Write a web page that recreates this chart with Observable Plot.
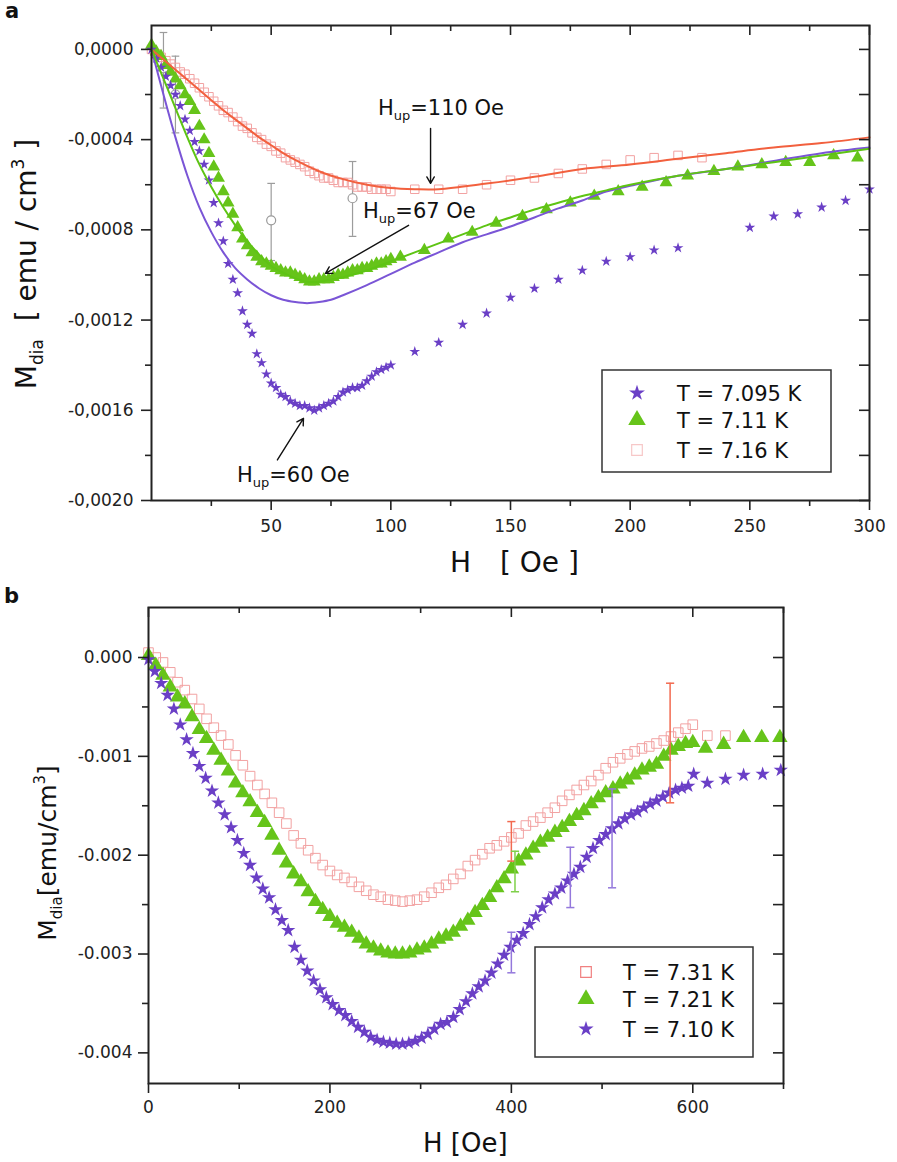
<!DOCTYPE html>
<html><head><meta charset="utf-8">
<script src="https://cdn.jsdelivr.net/npm/d3@7"></script>
<script src="https://cdn.jsdelivr.net/npm/@observablehq/plot@0.6"></script>
<style>
body{margin:0;background:#fff;}
#wrap{position:relative;width:897px;height:1162px;font-family:"DejaVu Sans",sans-serif;}
#pa{position:absolute;left:0;top:0;}
#pb{position:absolute;left:0;top:590px;}
svg text{white-space:pre;}
</style></head><body><div id="wrap"><div id="pa"></div><div id="pb"></div></div>
<script>
// ---------------- Panel a data (M in units of 1e-4 emu/cm^3) ----------------
const aStarH = [0,2,4,6,8,10,12,14,16,18,20,22,24,26,28,30,32,34,36,38,40,42,44,46,48,50,52,54,56,58,60,62,64,66,68,70,72,74,76,78,80,82,84,86,88,90,92,94,96,98,100,110,120,130,140,150,160,170,180,190,200,210,220,250,260,270,280,290,300];
const aStarM = [0,-0.4,-0.8,-1.2,-1.6,-2.0,-2.5,-3.1,-3.6,-4.1,-4.5,-5.1,-5.8,-6.8,-7.7,-8.5,-9.5,-10.2,-10.8,-11.6,-12.2,-12.6,-13.5,-13.9,-14.4,-14.8,-15.0,-15.3,-15.4,-15.6,-15.7,-15.8,-15.8,-15.9,-16.0,-15.9,-15.8,-15.7,-15.6,-15.4,-15.2,-15.1,-15.0,-15.0,-14.9,-14.7,-14.5,-14.3,-14.2,-14.1,-14.0,-13.4,-13.0,-12.2,-11.7,-11.0,-10.6,-10.2,-9.8,-9.4,-9.2,-8.9,-8.8,-7.9,-7.4,-7.3,-7.0,-6.7,-6.2];
const aTriH = [0,2,4,6,8,10,12,14,16,18,20,22,24,26,28,30,32,34,36,38,40,42,44,46,48,50,52,54,56,58,60,62,64,66,68,70,72,74,76,78,80,82,84,86,88,90,92,94,96,98,100,104,114,124,134,144,155,165,175,185,195,205,215,224,235,245,255,265,275,285,295];
const aTriM = [0.2,-0.1,-0.3,-0.7,-1.0,-1.3,-1.6,-2.0,-2.3,-2.7,-3.4,-4.0,-4.6,-5.2,-5.7,-6.3,-6.8,-7.3,-7.9,-8.4,-8.7,-9.0,-9.2,-9.4,-9.5,-9.6,-9.7,-9.8,-9.9,-9.9,-10.0,-10.1,-10.2,-10.3,-10.3,-10.2,-10.2,-10.2,-10.1,-10.0,-10.0,-9.9,-9.8,-9.8,-9.7,-9.7,-9.6,-9.5,-9.5,-9.4,-9.3,-9.2,-8.9,-8.4,-8.1,-7.7,-7.4,-7.1,-6.8,-6.5,-6.3,-6.1,-5.9,-5.6,-5.4,-5.2,-5.1,-5.0,-5.0,-4.7,-4.8];
const aSqH = [0,2,4,6,8,10,12,14,16,18,20,22,24,26,28,30,32,34,36,38,40,42,44,46,48,50,52,54,56,58,60,62,64,66,68,70,72,74,76,78,80,82,84,86,88,90,92,94,96,98,100,110,120,130,140,150,160,170,180,190,200,210,220,230];
const aSqM = [0,-0.2,-0.35,-0.5,-0.65,-0.8,-1.0,-1.1,-1.3,-1.5,-1.7,-1.9,-2.1,-2.3,-2.5,-2.7,-2.8,-3.0,-3.2,-3.4,-3.5,-3.7,-3.9,-4.0,-4.2,-4.3,-4.5,-4.6,-4.8,-4.9,-5.0,-5.1,-5.2,-5.4,-5.5,-5.6,-5.7,-5.7,-5.8,-5.9,-5.9,-5.9,-6.0,-6.1,-6.1,-6.1,-6.2,-6.2,-6.2,-6.2,-6.3,-6.2,-6.2,-6.2,-6.0,-5.8,-5.7,-5.5,-5.3,-5.1,-4.9,-4.8,-4.7,-4.8];
const aFitRedH = [0,5,10,15,20,25,30,35,40,45,50,55,60,70,80,90,100,110,120,140,160,180,200,220,240,260,280,300];
const aFitRedM = [0,-0.45,-0.9,-1.35,-1.8,-2.25,-2.7,-3.1,-3.5,-3.9,-4.25,-4.6,-4.9,-5.4,-5.75,-6.0,-6.15,-6.2,-6.2,-5.95,-5.65,-5.3,-5.1,-4.85,-4.6,-4.35,-4.15,-3.9];
const aFitGreenH = [0,5,10,15,20,25,30,35,40,45,50,55,60,65,70,75,80,90,100,110,120,130,140,150,160,170,180,190,200,220,240,260,280,300];
const aFitGreenM = [0,-1.3,-2.6,-3.9,-5.1,-6.1,-7.0,-7.8,-8.5,-9.1,-9.6,-9.9,-10.15,-10.3,-10.3,-10.2,-10.1,-9.8,-9.4,-9.0,-8.6,-8.2,-7.8,-7.45,-7.1,-6.8,-6.5,-6.25,-6.0,-5.6,-5.3,-5.0,-4.7,-4.4];
const aFitPurpH = [0,5,10,15,20,25,30,35,40,45,50,55,60,65,70,75,80,90,100,110,120,130,140,150,160,170,180,190,200,220,240,260,280,300];
const aFitPurpM = [0,-2.0,-3.9,-5.6,-7.0,-8.1,-9.0,-9.7,-10.2,-10.6,-10.9,-11.1,-11.2,-11.25,-11.2,-11.1,-10.9,-10.45,-9.95,-9.45,-9.0,-8.55,-8.2,-7.85,-7.45,-7.05,-6.7,-6.3,-6.05,-5.6,-5.3,-4.95,-4.6,-4.35];
const aErrH  = [5, 10, 50, 84];
const aErrM  = [-0.84, -2.0, -7.58, -6.6];
const aErrLo = [-2.6, -3.7, -9.36, -8.29];
const aErrHi = [0.75, -0.3, -5.94, -4.97];
const aLegend = ["T = 7.095 K", "T = 7.11 K", "T = 7.16 K"];
const aXMajor = [50,100,150,200,250,300];
const aXMinor = [25,75,125,175,225,275];
const aYMajor = [0,-0.0004,-0.0008,-0.0012,-0.0016,-0.0020];
const aYMinor = [-0.0002,-0.0006,-0.0010,-0.0014,-0.0018];
// annotations: label value, text anchor (H, M e-4), arrow start/end (H, M e-4)
const aNoteVal = ["110", "67", "60"];
const aNoteTx = [94.8, 88.6, 35.9];
const aNoteTy = [-2.93, -7.49, -19.2];
const aArrX1 = [116.6, 107.4, 52.6];
const aArrY1 = [-3.5, -7.8, -18.2];
const aArrX2 = [116.6, 72.7, 63.5];
const aArrY2 = [-5.94, -9.93, -16.36];

// ---------------- Panel b data (M in units of 1e-3 emu/cm^3) ----------------
const bSqH = [0,8,16,24,32,40,48,56,64,72,80,88,96,104,112,120,128,136,144,152,160,168,176,184,192,200,208,216,224,232,240,248,256,264,272,280,288,296,304,312,320,328,336,344,352,360,368,376,384,392,400,408,416,424,432,440,448,456,464,472,480,488,496,504,512,520,528,536,544,552,560,568,576,584,592,600,616,636];
const bSqM = [0.05,0.0,-0.05,-0.15,-0.25,-0.33,-0.42,-0.52,-0.62,-0.71,-0.79,-0.88,-0.99,-1.09,-1.2,-1.29,-1.38,-1.47,-1.57,-1.68,-1.8,-1.88,-1.95,-2.03,-2.1,-2.16,-2.2,-2.23,-2.27,-2.32,-2.36,-2.4,-2.42,-2.45,-2.46,-2.47,-2.46,-2.45,-2.42,-2.38,-2.33,-2.3,-2.24,-2.19,-2.11,-2.05,-1.99,-1.93,-1.9,-1.86,-1.82,-1.78,-1.7,-1.66,-1.62,-1.57,-1.52,-1.45,-1.39,-1.34,-1.29,-1.25,-1.19,-1.12,-1.06,-1.02,-0.98,-0.95,-0.92,-0.9,-0.87,-0.84,-0.8,-0.76,-0.72,-0.68,-0.79,-0.79];
const bTriH = [0,8,16,24,32,40,48,56,64,72,80,88,96,104,112,120,128,136,144,152,160,168,176,184,192,200,208,216,224,232,240,248,256,264,272,280,288,296,304,312,320,328,336,344,352,360,368,376,384,392,400,408,416,424,432,440,448,456,464,472,480,488,496,504,512,520,528,536,544,552,560,568,576,584,592,600,614,634,656,676,696];
const bTriM = [0.02,-0.08,-0.18,-0.3,-0.4,-0.47,-0.6,-0.73,-0.82,-0.94,-1.04,-1.15,-1.27,-1.37,-1.46,-1.57,-1.67,-1.8,-1.95,-2.08,-2.19,-2.27,-2.37,-2.47,-2.55,-2.62,-2.69,-2.73,-2.78,-2.84,-2.9,-2.94,-2.97,-2.99,-3.0,-3.0,-2.99,-2.96,-2.94,-2.9,-2.85,-2.82,-2.78,-2.72,-2.66,-2.58,-2.51,-2.43,-2.33,-2.24,-2.14,-2.06,-2.0,-1.93,-1.87,-1.82,-1.77,-1.72,-1.66,-1.6,-1.55,-1.48,-1.42,-1.37,-1.33,-1.28,-1.24,-1.19,-1.14,-1.11,-1.08,-1.0,-0.94,-0.9,-0.87,-0.86,-0.92,-0.88,-0.81,-0.81,-0.81];
const bStarH = [0,7,14,21,28,35,42,49,56,63,70,77,84,91,98,105,112,119,126,133,140,147,154,161,168,175,182,189,196,203,210,217,224,231,238,245,252,259,266,273,280,287,294,301,308,315,322,329,336,343,350,357,364,371,378,385,392,399,406,413,420,427,434,441,448,455,462,469,476,483,490,497,504,511,518,525,532,539,546,553,560,567,574,581,588,595,601,616,636,656,677,697];
const bStarM = [-0.02,-0.14,-0.26,-0.38,-0.52,-0.68,-0.83,-0.97,-1.1,-1.22,-1.35,-1.47,-1.59,-1.72,-1.85,-1.98,-2.1,-2.23,-2.34,-2.43,-2.55,-2.66,-2.76,-2.93,-3.06,-3.17,-3.27,-3.36,-3.44,-3.51,-3.57,-3.62,-3.68,-3.74,-3.79,-3.84,-3.87,-3.89,-3.9,-3.91,-3.91,-3.9,-3.88,-3.85,-3.81,-3.76,-3.71,-3.69,-3.64,-3.56,-3.48,-3.4,-3.33,-3.27,-3.19,-3.1,-3.01,-2.93,-2.86,-2.79,-2.7,-2.62,-2.53,-2.45,-2.39,-2.33,-2.26,-2.19,-2.12,-2.02,-1.93,-1.85,-1.79,-1.73,-1.68,-1.63,-1.59,-1.56,-1.52,-1.48,-1.45,-1.41,-1.37,-1.34,-1.32,-1.3,-1.18,-1.27,-1.23,-1.19,-1.18,-1.14];
const bErrH  = [400, 404, 400, 465, 511, 575];
const bErrLo = [-2.06, -2.37, -3.19, -2.53, -2.33, -1.47];
const bErrHi = [-1.66, -1.96, -2.78, -1.92, -1.33, -0.26];
const bErrSeries = ["7.31", "7.21", "7.10", "7.10", "7.10", "7.31"];
const bLegend = ["T = 7.31 K", "T = 7.21 K", "T = 7.10 K"];
const bXMajor = [0,200,400,600];
const bXMinor = [100,300,500,700];
const bYMajor = [0,-0.001,-0.002,-0.003,-0.004];
const bYMinor = [-0.0005,-0.0015,-0.0025,-0.0035];

// ---------------- styles ----------------
const C = {purple:"#6a3fc6", green:"#66c41a", pink:"#f2a2a2", red:"#f2603e", purpleLine:"#7a55d6", greenLine:"#5ec414", grey:"#9c9c9c", axis:"#222"};
const bErrColor = {"7.31":"#f26a50", "7.21":"#7fd04a", "7.10":"#9478dc"};

const zipA = (H, M) => H.map((h, i) => ({h, m: M[i] * 1e-4}));
const zipB = (H, M) => H.map((h, i) => ({h, m: M[i] * 1e-3}));
const aStar = zipA(aStarH, aStarM), aTri = zipA(aTriH, aTriM), aSq = zipA(aSqH, aSqM);
const aRed = zipA(aFitRedH, aFitRedM), aGreen = zipA(aFitGreenH, aFitGreenM), aPurp = zipA(aFitPurpH, aFitPurpM);
const aErr = aErrH.map((h, i) => ({h, m: aErrM[i]*1e-4, lo: aErrLo[i]*1e-4, hi: aErrHi[i]*1e-4}));
const aArrows = aArrX1.map((x1, i) => ({x1, y1: aArrY1[i]*1e-4, x2: aArrX2[i], y2: aArrY2[i]*1e-4}));
const bSq = zipB(bSqH, bSqM), bTri = zipB(bTriH, bTriM), bStar = zipB(bStarH, bStarM);
const bErr = bErrH.map((h, i) => ({h, lo: bErrLo[i]*1e-3, hi: bErrHi[i]*1e-3, s: bErrSeries[i]}));

// fw, fh: frame width / height in px (used to keep mirrored ticks short and inside)
function axes(xMaj, xMin, yMaj, yMin, xFmt, yFmt, xPad, yPad, fw, fh) {
  const common = {stroke: C.axis, strokeWidth: 1.6, label: null, fill: C.axis};
  const tk = {stroke: C.axis, strokeWidth: 1.6};
  const none = () => "";
  return [
    Plot.axisX(xMaj, {...common, anchor: "bottom", tickSize: 10, tickPadding: xPad, tickFormat: xFmt}),
    Plot.axisX(xMin, {...common, anchor: "bottom", tickSize: 6, tickFormat: none}),
    Plot.axisY(yMaj, {...common, anchor: "left", tickSize: 10, tickPadding: yPad, tickFormat: yFmt}),
    Plot.axisY(yMin, {...common, anchor: "left", tickSize: 6, tickFormat: none}),
    Plot.tickX(xMaj, {...tk, x: d => d, insetBottom: fh - 10}),
    Plot.tickX(xMin, {...tk, x: d => d, insetBottom: fh - 6}),
    Plot.tickY(yMaj, {...tk, y: d => d, insetLeft: fw - 10}),
    Plot.tickY(yMin, {...tk, y: d => d, insetLeft: fw - 10}),
    Plot.frame({stroke: C.axis, strokeWidth: 2})
  ];
}

// ---------------- Panel a ----------------
const capA = 1.6;
const plotA = Plot.plot({
  width: 897, height: 590,
  marginLeft: 151, marginRight: 28, marginTop: 25, marginBottom: 90,
  x: {domain: [0, 300]},
  y: {domain: [-0.002, 0.000106]},
  style: {fontFamily: "DejaVu Sans, sans-serif", fontSize: "17px", color: C.axis, background: "transparent", overflow: "visible"},
  marks: [
    Plot.ruleX(aErr, {x: "h", y1: "lo", y2: "hi", stroke: C.grey, strokeWidth: 1.2}),
    Plot.link(aErr, {x1: d => d.h - capA, x2: d => d.h + capA, y1: "lo", y2: "lo", stroke: C.grey, strokeWidth: 1.2}),
    Plot.link(aErr, {x1: d => d.h - capA, x2: d => d.h + capA, y1: "hi", y2: "hi", stroke: C.grey, strokeWidth: 1.2}),
    Plot.dot(aErr, {x: "h", y: "m", r: 4.5, fill: "#fff", stroke: "#999", strokeWidth: 1.2}),
    Plot.dot(aSq, {x: "h", y: "m", symbol: "square", r: 4.8, stroke: C.pink, fill: "none", strokeWidth: 1}),
    Plot.dot(aTri, {x: "h", y: "m", symbol: "triangle", r: 4.8, fill: C.green, stroke: "none"}),
    Plot.dot(aStar, {x: "h", y: "m", symbol: "star", r: 3.4, fill: C.purple, stroke: "none"}),
    Plot.line(aRed, {x: "h", y: "m", stroke: C.red, strokeWidth: 2, curve: "catmull-rom"}),
    Plot.line(aPurp, {x: "h", y: "m", stroke: C.purpleLine, strokeWidth: 2, curve: "catmull-rom"}),
    Plot.line(aGreen, {x: "h", y: "m", stroke: C.greenLine, strokeWidth: 2, curve: "catmull-rom"}),
    Plot.arrow(aArrows, {x1: "x1", y1: "y1", x2: "x2", y2: "y2", stroke: "#111", strokeWidth: 1.4, headLength: 8}),
    ...axes(aXMajor, aXMinor, aYMajor, aYMinor, d => String(d), d => d.toFixed(4).replace(".", ","), 9, 8, 718, 475)
  ]
});
document.getElementById("pa").append(plotA);

// ---------------- Panel b ----------------
const capB = 4.5;
const plotB = Plot.plot({
  width: 897, height: 572,
  marginLeft: 148, marginRight: 114, marginTop: 17, marginBottom: 79,
  x: {domain: [0, 700]},
  y: {domain: [-0.00431, 0.000506]},
  style: {fontFamily: "DejaVu Sans, sans-serif", fontSize: "17px", color: C.axis, background: "transparent", overflow: "visible"},
  marks: [
    Plot.dot(bSq, {x: "h", y: "m", symbol: "square", r: 5.4, stroke: C.pink, fill: "none", strokeWidth: 1}),
    Plot.dot(bTri, {x: "h", y: "m", symbol: "triangle", r: 5.7, fill: C.green, stroke: "none"}),
    Plot.dot(bStar, {x: "h", y: "m", symbol: "star", r: 4.5, fill: C.purple, stroke: "none"}),
    ...["7.31", "7.21", "7.10"].flatMap(s => {
      const d = bErr.filter(e => e.s === s);
      const st = bErrColor[s];
      return [
        Plot.ruleX(d, {x: "h", y1: "lo", y2: "hi", stroke: st, strokeWidth: 1.5}),
        Plot.link(d, {x1: e => e.h - capB, x2: e => e.h + capB, y1: "lo", y2: "lo", stroke: st, strokeWidth: 1.5}),
        Plot.link(d, {x1: e => e.h - capB, x2: e => e.h + capB, y1: "hi", y2: "hi", stroke: st, strokeWidth: 1.5})
      ];
    }),
    ...axes(bXMajor, bXMinor, bYMajor, bYMinor, d => String(d), d => d.toFixed(3), 7, 6, 635, 476)
  ]
});
document.getElementById("pb").append(plotB);

// ---------------- decorations (text, legends) ----------------
function legend(svg, box, items) {
  const g = svg.append("g").attr("text-anchor", "start");
  g.append("rect").attr("x", box.x).attr("y", box.y).attr("width", box.w).attr("height", box.h)
    .attr("fill", "#fff").attr("stroke", "#333").attr("stroke-width", 1.5);
  items.forEach(it => {
    g.append("path").attr("transform", `translate(${box.sx},${it.y})`)
      .attr("d", d3.symbol(it.sym, Math.PI * it.r * it.r)())
      .attr("fill", it.fill).attr("stroke", it.stroke || "none").attr("stroke-width", 1.2);
    g.append("text").attr("x", box.tx).attr("y", it.y).attr("dy", "0.36em")
      .attr("font-size", box.fs).attr("fill", "#111").text(it.label);
  });
}

// Panel a text
{
  const svg = d3.select(plotA);
  const x = plotA.scale("x"), y = plotA.scale("y");
  const g = svg.append("g").attr("text-anchor", "start").attr("fill", "#111");
  g.append("text").attr("x", 5).attr("y", 18).attr("font-size", 21).attr("font-weight", "bold").text("a");
  // x label
  g.append("text").attr("x", 450).attr("y", 572).attr("font-size", 28).text("H");
  g.append("text").attr("x", 500).attr("y", 572).attr("font-size", 28).text("[ Oe ]");
  // y label
  const yl = svg.append("text").attr("transform", "translate(36,264) rotate(-90)").attr("text-anchor", "middle")
    .attr("font-size", 28).attr("fill", "#111");
  yl.append("tspan").text("M");
  yl.append("tspan").attr("font-size", 17).attr("dy", 7).text("dia");
  yl.append("tspan").attr("dy", -7).text("  [ emu / cm");
  yl.append("tspan").attr("font-size", 17).attr("dy", -12).text("3");
  yl.append("tspan").attr("dy", 12).text(" ]");
  // annotations
  aNoteVal.forEach((v, i) => {
    const t = g.append("text").attr("x", x.apply(aNoteTx[i])).attr("y", y.apply(aNoteTy[i] * 1e-4))
      .attr("font-size", 21);
    t.append("tspan").text("H");
    t.append("tspan").attr("font-size", 13).attr("dy", 5).text("up");
    t.append("tspan").attr("dy", -5).text(`=${v} Oe`);
  });
  legend(svg, {x: 602, y: 370, w: 229, h: 102, sx: 637, tx: 677, fs: 21}, [
    {sym: d3.symbolStar, r: 5, fill: C.purple, y: 393, label: aLegend[0]},
    {sym: d3.symbolTriangle, r: 6.5, fill: C.green, y: 420, label: aLegend[1]},
    {sym: d3.symbolSquare, r: 6, fill: "none", stroke: "#f7c8c8", y: 450, label: aLegend[2]}
  ]);
}

// Panel b text
{
  const svg = d3.select(plotB);
  const g = svg.append("g").attr("text-anchor", "start").attr("fill", "#111");
  g.append("text").attr("x", 4).attr("y", 13).attr("font-size", 21).attr("font-weight", "bold").text("b");
  g.append("text").attr("x", 423).attr("y", 562).attr("font-size", 26).text("H [Oe]");
  const yl = svg.append("text").attr("transform", "translate(56,263) rotate(-90)").attr("text-anchor", "middle")
    .attr("font-size", 25).attr("fill", "#111");
  yl.append("tspan").text("M");
  yl.append("tspan").attr("font-size", 15).attr("dy", 6).text("dia");
  yl.append("tspan").attr("dy", -6).text("[emu/cm");
  yl.append("tspan").attr("font-size", 15).attr("dy", -11).text("3");
  yl.append("tspan").attr("dy", 11).text("]");
  legend(svg, {x: 535, y: 357, w: 218, h: 110, sx: 586, tx: 623, fs: 21}, [
    {sym: d3.symbolSquare, r: 6, fill: "none", stroke: "#f08080", y: 382, label: bLegend[0]},
    {sym: d3.symbolTriangle, r: 6.3, fill: C.green, y: 409, label: bLegend[1]},
    {sym: d3.symbolStar, r: 4.8, fill: C.purple, y: 439, label: bLegend[2]}
  ]);
}
</script>
</body></html>
